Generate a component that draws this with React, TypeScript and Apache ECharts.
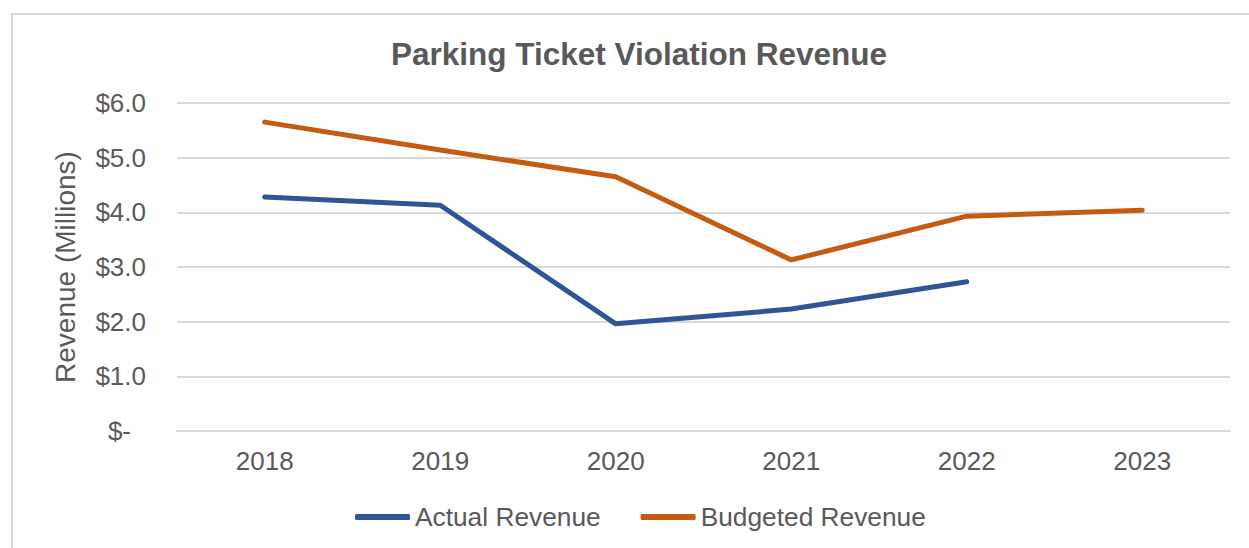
import React, { useEffect, useRef } from "react";
import * as echarts from "echarts";

const years = ["2018", "2019", "2020", "2021", "2022", "2023"];
const actualRevenue = [4.28, 4.13, 1.96, 2.23, 2.73, null];
const budgetedRevenue = [5.65, 5.14, 4.65, 3.13, 3.93, 4.04];
const seriesNames = ["Actual Revenue", "Budgeted Revenue"];

const FONT = "'Liberation Sans', Arial, sans-serif";
const TEXT = "#595959";

export default function App() {
  const ref = useRef<HTMLDivElement>(null);
  useEffect(() => {
    if (!ref.current) return;
    const chart = echarts.init(ref.current, undefined, { renderer: "svg" });
    chart.setOption({
      animation: false,
      backgroundColor: "#ffffff",
      graphic: [
        {
          type: "rect",
          shape: { x: 12, y: 14, width: 1260, height: 560 },
          style: { fill: "none", stroke: "#d9d9d9", lineWidth: 2 },
          silent: true,
        },
      ],
      title: {
        text: "Parking Ticket Violation Revenue",
        left: 386,
        top: 33,
        textStyle: { fontFamily: FONT, fontSize: 31.5, fontWeight: "bold", color: TEXT },
      },
      legend: {
        data: seriesNames,
        left: 350,
        top: 499,
        icon: "roundRect",
        itemWidth: 55,
        itemHeight: 6,
        itemGap: 40,
        textStyle: { fontFamily: FONT, fontSize: 26.3, color: TEXT },
      },
      grid: { left: 177, right: 19, top: 103, bottom: 117, containLabel: false },
      xAxis: {
        type: "category",
        data: years,
        boundaryGap: true,
        axisLine: { lineStyle: { color: "#d9d9d9", width: 2 } },
        axisTick: { show: false },
        axisLabel: { fontFamily: FONT, fontSize: 26, color: TEXT, margin: 17 },
      },
      yAxis: {
        type: "value",
        min: 0,
        max: 6,
        interval: 1,
        name: "Revenue (Millions)",
        nameLocation: "middle",
        nameGap: 98,
        nameTextStyle: { fontFamily: FONT, fontSize: 28, color: TEXT },
        axisLine: { show: false },
        axisTick: { show: false },
        splitLine: { lineStyle: { color: "#d9d9d9", width: 2 } },
        axisLabel: {
          fontFamily: FONT,
          fontSize: 26,
          color: TEXT,
          margin: 31,
          formatter: (v: number) => (v === 0 ? "{z|$-}" : "$" + v.toFixed(1)),
          rich: { z: { fontFamily: FONT, fontSize: 26, color: TEXT, padding: [0, 15, 0, 0] } },
        },
      },
      series: [
        {
          name: seriesNames[0],
          type: "line",
          data: actualRevenue,
          symbol: "none",
          lineStyle: { color: "#2F5597", width: 5, cap: "round", join: "round" },
          itemStyle: { color: "#2F5597" },
        },
        {
          name: seriesNames[1],
          type: "line",
          data: budgetedRevenue,
          symbol: "none",
          lineStyle: { color: "#C55A11", width: 5, cap: "round", join: "round" },
          itemStyle: { color: "#C55A11" },
        },
      ],
    });
    return () => chart.dispose();
  }, []);
  return (
    <div
      ref={ref}
      style={{ position: "absolute", left: 0, top: 0, width: 1249, height: 548 }}
    />
  );
}
